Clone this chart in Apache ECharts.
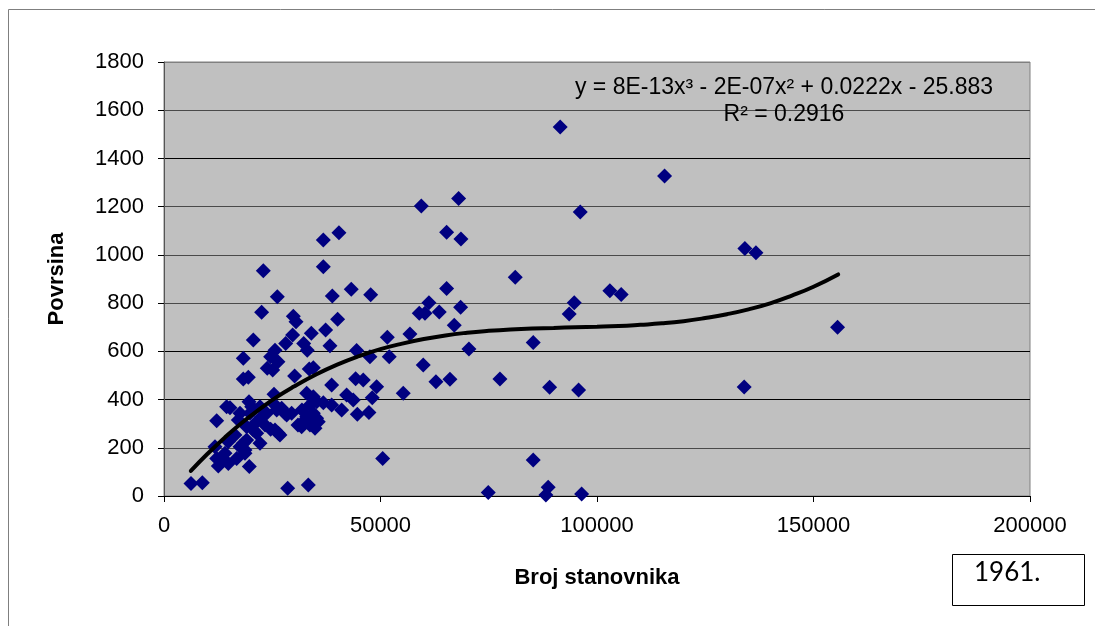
<!DOCTYPE html>
<html>
<head>
<meta charset="utf-8">
<script src="https://cdn.jsdelivr.net/npm/echarts@6/dist/echarts.min.js"></script>
<style>
  html, body { margin: 0; padding: 0; background: #ffffff; }
  #chart { width: 1095px; height: 626px; }
</style>
</head>
<body>
<div id="chart"></div>
<script>
// Broj stanovnika (population) per municipality
const population = [
  6240, 8850, 28560, 33330, 74880, 88730, 88200, 96450, 85270, 50500,
  40400, 36790, 36790, 22930, 26170, 43250, 47730, 38870, 22550, 40100,
  29860, 30480, 29710, 20630, 34020, 37330, 28100, 32260, 33090, 38330,
  51570, 56800, 25630, 24630, 18310, 26320, 44490, 47560, 52020, 25100,
  23850, 18310, 19470, 30170, 33550, 34480, 38720, 44260, 46020, 49110,
  48100, 55250, 42180, 43710, 41030, 44640, 47330, 38720, 36790, 32950,
  31860, 30940, 33710, 35630, 34480, 25400, 27940, 26400, 24630, 22170,
  19630, 14470, 15240, 12170, 17550, 19860, 22170, 21010, 16390, 19090,
  17550, 14850, 11780, 13690, 12540, 16780, 19700, 18700, 21400, 23320,
  26020, 32560, 35260, 59420, 68040, 65270, 68580, 81120, 65270, 61190,
  58950, 60270, 63570, 68510, 67030, 70430, 85270, 59880, 62800, 66040,
  77580, 91500, 115600, 96130, 134150, 136700, 102980, 105590, 94740, 93580,
  155560, 89060, 95750, 133990, 20250, 25630, 27180, 28330, 32950, 33710,
  34870, 31790, 17160, 19090, 25630, 26780, 18700, 14090, 12170, 14850,
  18310, 20630, 22550, 23700, 34480, 34870, 35250, 29480
];

// Povrsina (area) for the same municipalities, in the same order
const area = [
  52, 55, 32, 46, 15, 36, 4, 8, 149, 156,
  1092, 1062, 951, 934, 826, 857, 835, 829, 762, 733,
  746, 723, 668, 647, 675, 688, 633, 633, 605, 623,
  658, 672, 605, 578, 571, 557, 603, 578, 578, 523,
  530, 485, 492, 498, 527, 532, 460, 486, 481, 453,
  408, 426, 419, 398, 357, 339, 346, 377, 387, 426,
  357, 294, 294, 308, 343, 422, 343, 260, 277, 219,
  391, 370, 366, 312, 343, 343, 370, 301, 253, 232,
  204, 225, 204, 149, 124, 156, 122, 177, 260, 294,
  357, 315, 391, 1203, 1234, 1094, 1066, 907, 861, 802,
  758, 758, 763, 783, 708, 610, 637, 543, 474, 484,
  485, 1530, 1327, 1178, 1027, 1009, 851, 836, 802, 755,
  700, 451, 440, 452, 370, 377, 364, 336, 329, 377,
  398, 287, 315, 287, 274, 253, 191, 177, 156, 135,
  219, 274, 329, 343, 412, 281, 322, 343
];

// Polynomial (order 3) trendline, sampled along the population range
const trendX = [6200, 10000, 14000, 18000, 22000, 26000, 30000, 35000, 40000, 45000,
                50000, 55000, 60000, 65000, 70000, 75000, 80000, 85000, 90000, 95000,
                100000, 105000, 110000, 115000, 120000, 125000, 130000, 135000, 140000, 145000,
                150000, 155700];
const trendY = [104, 174, 242, 304, 359, 410, 454, 503, 545, 580,
                609, 632, 651, 666, 677, 685, 691, 695, 697, 700,
                702, 705, 710, 716, 725, 738, 754, 774, 799, 831,
                868, 919];

const xTicks = [0, 50000, 100000, 150000, 200000];
const yTicks = [0, 200, 400, 600, 800, 1000, 1200, 1400, 1600, 1800];

const equationText = 'y = 8E-13x\u00B3 - 2E-07x\u00B2 + 0.0222x - 25.883';
const rSquaredText = 'R\u00B2 = 0.2916';
const yearText = '1961.';

const points = population.map((p, i) => [p, area[i]]);
const trend = trendX.map((x, i) => [x, trendY[i]]);

const chart = echarts.init(document.getElementById('chart'), null, { renderer: 'canvas' });

const labelFont = {
  color: '#000000',
  fontFamily: 'Liberation Sans, Arial, sans-serif',
  fontSize: 22,
  formatter: (v) => String(v)
};

chart.setOption({
  animation: false,
  backgroundColor: '#ffffff',
  grid: {
    left: 164, top: 62, width: 866, height: 434,
    show: true,
    backgroundColor: '#c0c0c0',
    borderColor: '#808080',
    borderWidth: 1
  },
  xAxis: {
    type: 'value',
    min: xTicks[0], max: xTicks[xTicks.length - 1], interval: 50000,
    name: 'Broj stanovnika',
    nameLocation: 'middle',
    nameGap: 71,
    nameTextStyle: { fontFamily: 'Liberation Sans, Arial, sans-serif', fontSize: 22, fontWeight: 'bold', color: '#000' },
    axisLine: { show: true, lineStyle: { color: '#000000', width: 1 } },
    axisTick: { show: true, inside: false, length: 6, lineStyle: { color: '#000000' } },
    axisLabel: Object.assign({ margin: 19 }, labelFont),
    splitLine: { show: false }
  },
  yAxis: {
    type: 'value',
    min: yTicks[0], max: yTicks[yTicks.length - 1], interval: 200,
    name: 'Povrsina',
    nameLocation: 'middle',
    nameGap: 96,
    nameTextStyle: { fontFamily: 'Liberation Sans, Arial, sans-serif', fontSize: 22, fontWeight: 'bold', color: '#000' },
    axisLine: { show: true, lineStyle: { color: '#555555', width: 1 } },
    axisTick: { show: true, inside: false, length: 6, lineStyle: { color: '#000000' } },
    axisLabel: Object.assign({ margin: 20 }, labelFont),
    splitLine: {
      show: true,
      lineStyle: {
        width: 1,
        color: ['#808080', '#4a4a4a', '#000000', '#000000', '#4a4a4a',
                '#4a4a4a', '#4a4a4a', '#000000', '#4a4a4a', '#808080']
      }
    }
  },
  series: [
    {
      type: 'scatter',
      data: points,
      symbol: 'diamond',
      symbolSize: 15,
      itemStyle: { color: '#000080', opacity: 1 },
      z: 3
    },
    {
      type: 'line',
      data: trend,
      smooth: true,
      showSymbol: false,
      symbol: 'none',
      lineStyle: { color: '#000000', width: 4, cap: 'round' },
      z: 4
    }
  ],
  graphic: [
    {
      type: 'polyline',
      shape: { points: [[8.5, 640], [8.5, 9.5], [1100, 9.5]] },
      style: { stroke: '#7f7f7f', lineWidth: 1, fill: null },
      silent: true
    },
    {
      type: 'text',
      x: 784, y: 74,
      style: {
        text: equationText + '\n' + rSquaredText,
        textAlign: 'center',
        textVerticalAlign: 'top',
        font: '23px "Liberation Sans", Arial, sans-serif',
        lineHeight: 27,
        fill: '#000000'
      },
      z: 10
    },
    {
      type: 'rect',
      shape: { x: 952.5, y: 554.5, width: 132, height: 51 },
      style: { fill: '#ffffff', stroke: '#000000', lineWidth: 1 },
      z: 10
    },
    {
      type: 'text',
      x: 974, y: 560,
      style: {
        text: yearText,
        font: '26px Lato, "Open Sans", sans-serif',
        fill: '#000000'
      },
      z: 11
    }
  ]
});
</script>
</body>
</html>
